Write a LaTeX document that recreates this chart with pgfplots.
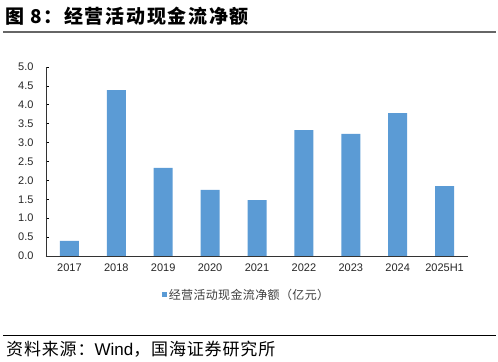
\documentclass[border=0pt]{standalone}
\usepackage{pgfplots}
\pgfplotsset{compat=1.18}
\usepackage{fontspec}
\setmainfont{Liberation Sans}
\newfontfamily\cjk{Noto Sans CJK SC}
\newfontfamily\cjks[LetterSpace=5]{Noto Sans CJK SC}
\definecolor{barblue}{HTML}{5B9BD5}
\begin{document}
\begin{tikzpicture}
\useasboundingbox (0,0) rectangle (498bp,362bp);
\node[anchor=west, inner sep=0] at (5bp,346bp) {\cjk\bfseries\fontsize{19bp}{22bp}\selectfont\addfontfeatures{LetterSpace=9}图 8：经营活动现金流净额};
\draw[black!60, line width=1.3bp] (3bp,330bp) -- (496bp,330bp);
\draw[black, line width=0.8bp] (3bp,27bp) -- (496bp,27bp);
\node[anchor=west, inner sep=0] at (6bp,13bp) {\fontsize{17bp}{20bp}\selectfont{\cjks 资料来源：}Wind{\cjks ，国海证券研究所}};
\begin{axis}[
  at={(46bp,106bp)}, anchor=south west,
  scale only axis, width=422bp, height=189bp,
  xmin=-0.5, xmax=8.5, ymin=0, ymax=5,
  axis x line*=bottom, axis y line*=left,
  axis line style={black!80, line width=0.8bp},
  tick align=inside,
  xtick={0,...,8},
  xticklabels={2017,2018,2019,2020,2021,2022,2023,2024,2025H1},
  major x tick style={draw=none},
  extra x ticks={0.5,1.5,...,8.5},
  extra x tick labels={},
  extra x tick style={major tick length=3bp, tick style={black, line width=0.8bp}},
  ytick={0,0.5,...,5},
  major tick length=3bp,
  ytick style={black, line width=0.8bp},
  yticklabel style={/pgf/number format/fixed, /pgf/number format/precision=1, /pgf/number format/fixed zerofill, xshift=-9bp},
  xticklabel style={yshift=-4bp},
  tick label style={font=\fontsize{11bp}{13bp}\selectfont, text=black!85},
  /pgf/number format/assume math mode=true,
  legend style={draw=none, at={(0.475,-0.206)}, anchor=center, font=\cjk\fontsize{12bp}{14bp}\selectfont\addfontfeatures{LetterSpace=3}, text=black!75},
]
\addplot[ybar, bar width=19bp, fill=barblue, draw=none,
  legend image code/.code={\fill[barblue] (0bp,-2.5bp) rectangle (5bp,2.5bp);}]
  coordinates {(0,0.40) (1,4.39) (2,2.33) (3,1.75) (4,1.48) (5,3.33) (6,3.23) (7,3.78) (8,1.85)};
\addlegendentry{经营活动现金流净额（亿元）}
\end{axis}
\end{tikzpicture}
\end{document}
